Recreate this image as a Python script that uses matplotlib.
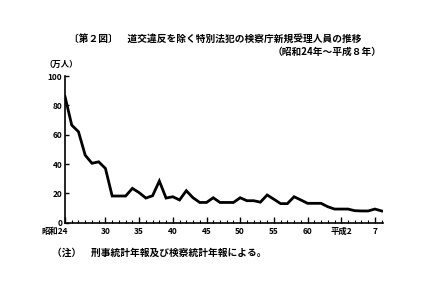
import matplotlib
matplotlib.use("Agg")
import matplotlib.pyplot as plt
import matplotlib.transforms as mtransforms
from matplotlib.ticker import MultipleLocator

plt.rcParams['font.family'] = ['Noto Sans CJK JP', 'DejaVu Sans']

# Showa year (昭和24 = 1949 ... 昭和71 = 平成8 = 1996)
years = list(range(24, 72))
# 10k persons (万人)
persons = [86, 66.5, 62, 46, 40.5, 41.5, 37, 18.2, 18.2, 18.2,
           23.4, 20.5, 16.8, 18.4, 28.4, 16.8, 17.7, 15.5, 21.8, 17,
           13.8, 13.8, 17, 13.8, 13.8, 13.8, 17, 15, 15, 14,
           18.9, 16, 13, 13, 17.7, 15.5, 13.2, 13.2, 13.2, 10.9,
           9.3, 9.3, 9.3, 8.2, 8, 8, 9.3, 8]

xtick_pos = [24, 30, 35, 40, 45, 50, 55, 60, 65, 70]
xtick_labels = ['昭和24', '30', '35', '40', '45', '50', '55', '60', '平成2', '7']
ytick_pos = [0, 20, 40, 60, 80, 100]

fig = plt.figure(figsize=(4.41, 2.89), dpi=100)
ax = fig.add_axes([0.1474, 0.2294, 0.7204, 0.5076])

ax.plot(years, persons, color='black', lw=2.0, solid_joinstyle='miter')

ax.set_xlim(24, 71.15)
ax.set_ylim(0, 100)
ax.spines['top'].set_visible(False)
ax.spines['right'].set_visible(False)
ax.spines['left'].set_linewidth(1.2)
ax.spines['bottom'].set_linewidth(1.2)

ax.set_xticks(xtick_pos)
ax.set_xticklabels(xtick_labels, fontsize=6, fontweight='bold')
ax.xaxis.set_minor_locator(MultipleLocator(1))
ax.tick_params(axis='x', which='major', direction='in', length=4, width=1, pad=3)
ax.tick_params(axis='x', which='minor', direction='in', length=2, width=0.8)
ax.set_yticks(ytick_pos)
ax.set_yticklabels([str(v) for v in ytick_pos], fontsize=6, fontweight='bold')
ax.tick_params(axis='y', direction='in', length=3, width=1, pad=2)

# first label sits to the left of the origin tick
first = ax.get_xticklabels()[0]
first.set_horizontalalignment('right')
first.set_transform(first.get_transform() +
                    mtransforms.ScaledTranslation(2 / 72, 0, fig.dpi_scale_trans))

fig.text(69 / 441, 1 - 39 / 289, '〔第２図〕　道交違反を除く特別法犯の検察庁新規受理人員の推移',
         fontsize=7, fontweight='bold', va='center', ha='left')
fig.text(382 / 441, 1 - 52 / 289, '（昭和24年～平成８年）',
         fontsize=7, fontweight='bold', va='center', ha='right')
fig.text(44 / 441, 1 - 64 / 289, '（万人）', fontsize=6, fontweight='bold',
         va='center', ha='left')
fig.text(52 / 441, 1 - 253 / 289, '（注）　刑事統計年報及び検察統計年報による。',
         fontsize=7, fontweight='bold', va='center', ha='left')

fig.savefig('out.png', dpi=100)
